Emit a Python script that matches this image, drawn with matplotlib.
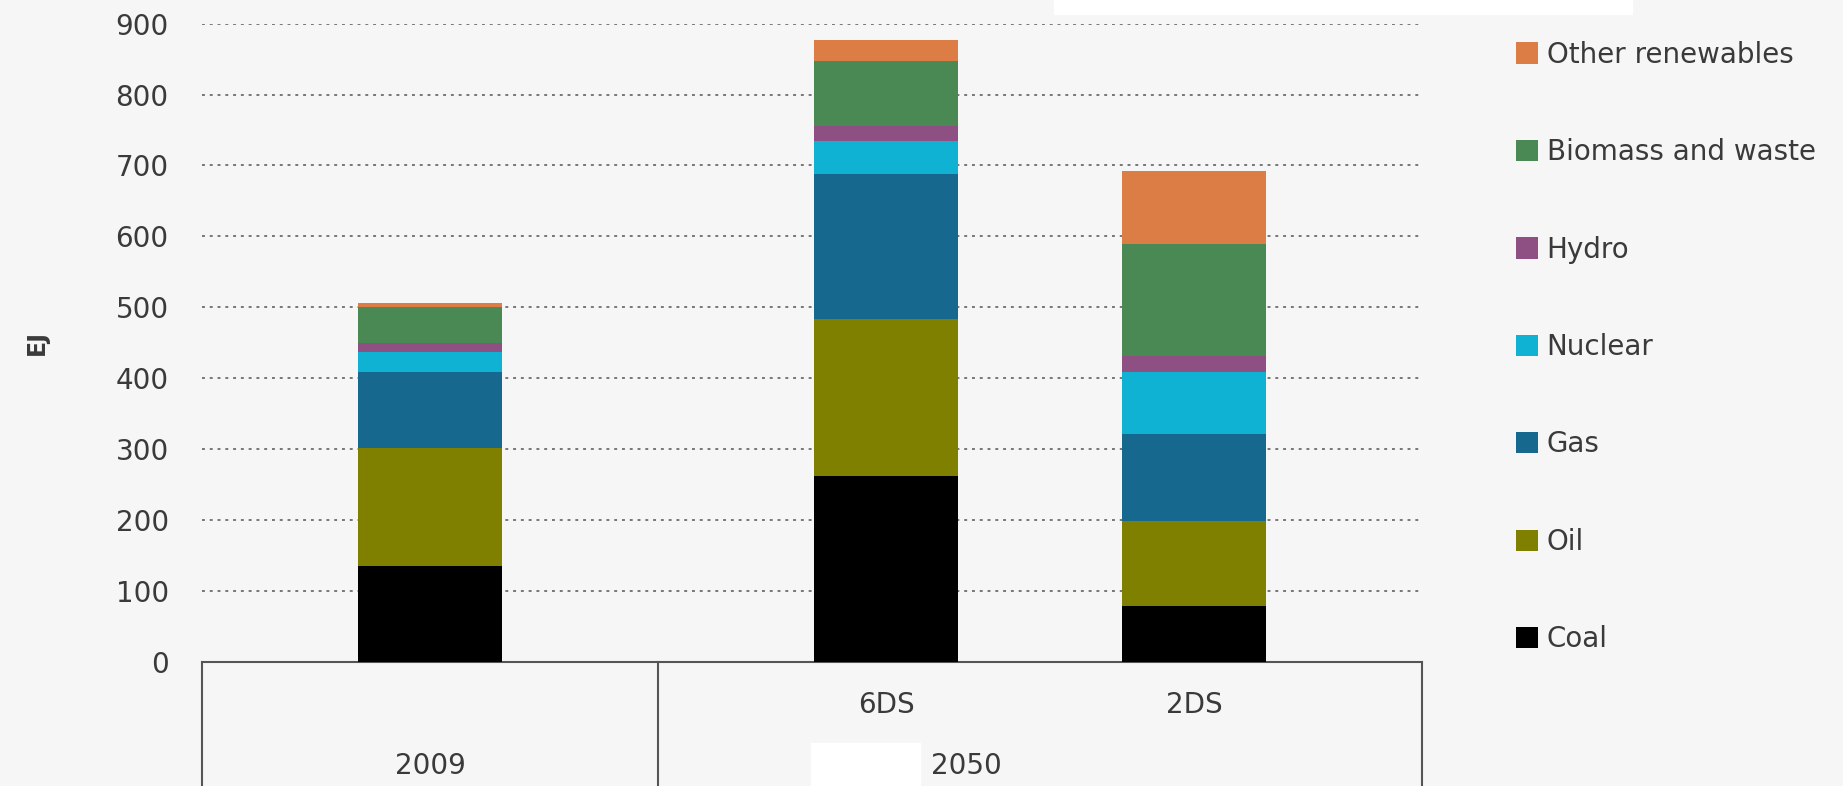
import numpy as np
import matplotlib.pyplot as plt
from matplotlib.patches import Rectangle
from matplotlib.lines import Line2D

plt.rcParams['font.family'] = ['DejaVu Sans']

# Stacked values in EJ
scenarios = ['2009', '6DS', '2DS']
coal = [136, 262, 79]
oil = [166, 221, 120]
gas = [107, 205, 122]
nuclear = [28, 47, 88]
hydro = [13, 20, 22]
biomass = [51, 92, 158]
other = [5, 30, 103]

series = [coal, oil, gas, nuclear, hydro, biomass, other]
names = ['Coal', 'Oil', 'Gas', 'Nuclear', 'Hydro', 'Biomass and waste', 'Other renewables']
colors = ['#000000', '#808000', '#17688f', '#10b2d3', '#8e4f83', '#4a8854', '#dc7d45']

bg = '#f6f6f6'
txt = '#3a3a3a'
fs = 20

fig = plt.figure(figsize=(18.43, 7.86), dpi=100, facecolor=bg)
ax = fig.add_axes([0.1096, 0.1578, 0.662, 0.8122])
ax.set_facecolor(bg)

x = np.array([1.0, 3.0, 4.35])
width = 0.63
bottom = np.zeros(3)
handles = []
for vals, name, c in zip(series, names, colors):
    b = ax.bar(x, vals, width, bottom=bottom, color=c, label=name, zorder=3)
    handles.append(b)
    bottom += np.array(vals)

ax.set_xlim(0, 5.35)
ax.set_ylim(0, 900)
ax.set_yticks(range(0, 901, 100))
ax.yaxis.grid(True, linestyle=(0, (1.5, 2.5)), color='#777777', linewidth=1.4, zorder=0)
ax.tick_params(axis='y', length=0, pad=24, labelsize=fs, labelcolor=txt)
ax.set_xticks([])
for s in ['top', 'right', 'left']:
    ax.spines[s].set_visible(False)
ax.spines['bottom'].set_color('#555555')
ax.spines['bottom'].set_linewidth(1.5)
ax.set_ylabel('EJ', fontsize=17, color=txt, fontweight='bold', labelpad=48)

# multi-level category table under the axis
for xv in [0.0, 2.0, 5.35]:
    ax.add_line(Line2D([xv, xv], [0, -1], transform=ax.get_xaxis_transform(),
                       color='#555555', linewidth=1.5, clip_on=False))
for xv, lab in zip(x, ['', '6DS', '2DS']):
    if lab:
        ax.text(xv, -0.067, lab, transform=ax.get_xaxis_transform(), ha='center',
                va='center', fontsize=fs, color=txt)
ax.text(1.0, -0.163, '2009', transform=ax.get_xaxis_transform(), ha='center',
        va='center', fontsize=fs, color=txt)
ax.text(3.35, -0.163, '2050', transform=ax.get_xaxis_transform(), ha='center',
        va='center', fontsize=fs, color=txt)

leg = fig.legend(handles[::-1], names[::-1], loc='upper left', bbox_to_anchor=(0.809, 0.980),
                 frameon=False, fontsize=fs, handlelength=0.8, handleheight=0.8,
                 handletextpad=0.3, labelspacing=2.5, labelcolor=txt)

# white patches present in the source image
fig.patches.append(Rectangle((1054 / 1843, 1 - 14 / 786), 578 / 1843, 14 / 786,
                             transform=fig.transFigure, color='white', zorder=5))
fig.patches.append(Rectangle((811 / 1843, 0), 109 / 1843, 43 / 786,
                             transform=fig.transFigure, color='white', zorder=5))

fig.savefig('out.png', dpi=100, facecolor=bg)
